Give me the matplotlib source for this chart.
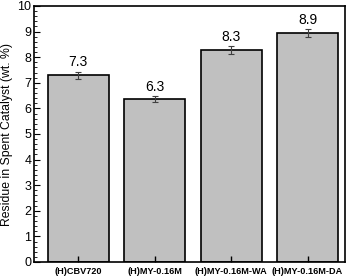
import numpy as np
import matplotlib.pyplot as plt
from matplotlib.ticker import MultipleLocator

plt.rcParams['font.family'] = ['Liberation Sans', 'DejaVu Sans']

catalysts = ["(H)CBV720", "(H)MY-0.16M", "(H)MY-0.16M-WA", "(H)MY-0.16M-DA"]
residue = [7.29, 6.36, 8.27, 8.94]
errors = [0.15, 0.12, 0.15, 0.17]
labels = ["7.3", "6.3", "8.3", "8.9"]

fig = plt.figure(figsize=(3.54, 2.78), dpi=100)
ax = fig.add_axes([34 / 354, 16 / 278, 311 / 354, 256 / 278])

x = np.arange(len(catalysts))
ax.bar(x, residue, width=0.8, color="#c0c0c0", edgecolor="black", linewidth=1.2,
       yerr=errors, error_kw=dict(ecolor="#404040", elinewidth=0.8, capsize=2, capthick=0.8))
for xi, v, e, lab in zip(x, residue, errors, labels):
    ax.text(xi, v + e + 0.08, lab, ha="center", va="bottom", fontsize=10)

ax.set_xlim(-0.58, 3.49)
ax.set_ylim(0, 10)
ax.set_xticks(x)
ax.set_xticklabels(catalysts, fontsize=6.6, fontweight="bold")
ax.yaxis.set_major_locator(MultipleLocator(1))
ax.yaxis.set_minor_locator(MultipleLocator(0.2))
ax.tick_params(axis="y", which="major", direction="in", length=4, labelsize=9, width=0.8, pad=2)
ax.tick_params(axis="y", which="minor", direction="in", length=2, width=0.6)
ax.tick_params(axis="x", direction="in", length=4, width=1, pad=3.5)
ax.set_ylabel("Residue in Spent Catalyst (wt. %)", fontsize=8.8, labelpad=3)
for s in ax.spines.values():
    s.set_linewidth(1.2)

fig.savefig("out.png", dpi=100)
